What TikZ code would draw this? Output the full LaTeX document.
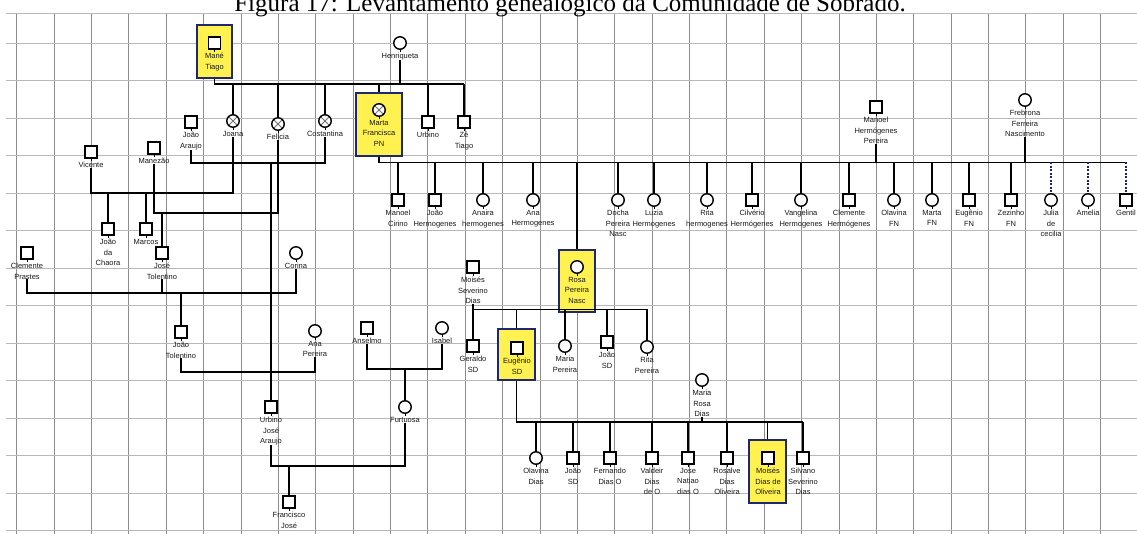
\documentclass[tikz,border=0pt]{standalone}
\usepackage{fontspec}
\setmainfont{Liberation Serif}
\newfontfamily\lblfont{Liberation Sans}
\definecolor{hlyellow}{RGB}{255,242,80}
\definecolor{hlborder}{RGB}{30,40,110}
\definecolor{dashblue}{RGB}{30,30,120}
\newcommand\persn[5]{%
  \node[#2] (#1) at ({#3},{#4}) {};
  \draw[stem] (#1.south) -- ++(0,2.5);
  \node[lbl] (#1-l) at ({#3},{#4+10}) {#5};
}
\begin{document}
\begin{tikzpicture}[x=1pt,y=-1pt,
  gridv/.style={draw=black!45,line width=0.7pt},
  gridh/.style={draw=black!28,line width=0.7pt},
  rel/.style={draw=black,line width=1.9pt},
  reldash/.style={draw=dashblue,line width=1.9pt,dash pattern=on 2pt off 1.5pt},
  msq/.style={rectangle,draw=black,line width=1.4pt,fill=white,minimum size=12pt,inner sep=0pt},
  fci/.style={circle,draw=black,line width=1.4pt,fill=white,minimum size=12.5pt,inner sep=0pt},
  fdec/.style={fci,path picture={\draw[black!55,line width=0.9pt] (path picture bounding box.north west)--(path picture bounding box.south east) (path picture bounding box.north east)--(path picture bounding box.south west);}},
  hl/.style={rectangle,draw=hlborder,fill=hlyellow,line width=1.2pt,inner sep=0pt},
  lbl/.style={font=\lblfont\fontsize{7.5}{10.5}\selectfont,align=center,inner sep=0pt,text=black!90,anchor=north},
  stem/.style={draw=black,line width=1pt},
]
\useasboundingbox (0,0) rectangle (1137,534);
\fill[white] (0,0) rectangle (1137,534);
% grid
\foreach \k in {0,...,29} \draw[gridv] ({16.7+37.37*\k},13) -- ({16.7+37.37*\k},534);
\draw[gridh] (6,13.3) -- (1137,13.3);
\foreach \k in {0,...,13} \draw[gridh] (6,{43.3+37.5*\k}) -- (1137,{43.3+37.5*\k});
% title (cut at the top, as in the reference)
\node[anchor=base,font=\fontsize{25}{25}\selectfont,inner sep=0pt] (title) at (570,12) {Figura 17: Levantamento genealógico da Comunidade de Sobrado.};
% highlight boxes
\node[hl,minimum width=35pt,minimum height=53pt] (maneBox) at (214.5,51.5) {};
\node[hl,minimum width=46pt,minimum height=63pt] (martaBox) at (379,124.5) {};
\node[hl,minimum width=36pt,minimum height=62pt] (rosaBox) at (577,281) {};
\node[hl,minimum width=37pt,minimum height=51pt] (eugBox) at (516.5,354.5) {};
\node[hl,minimum width=37pt,minimum height=63pt] (moisBox) at (767.5,471.5) {};
% persons
\persn{mane}{msq}{214.5}{43}{Mané\\Tiago}
\persn{henr}{fci}{400}{43}{Henriqueta}
\persn{joana}{fdec}{233}{121}{Joana}
\persn{felicia}{fdec}{278}{124}{Felícia}
\persn{cost}{fdec}{325}{121}{Costantina}
\persn{marta}{fdec}{379}{110}{Marta\\Francisca\\PN}
\persn{urbino}{msq}{428}{122}{Urbino}
\persn{ze}{msq}{464}{122}{Zé\\Tiago}
\persn{joaoA}{msq}{191}{122}{João\\Araujo}
\persn{vicente}{msq}{91}{152}{Vicente}
\persn{manezao}{msq}{154}{148}{Manezão}
\persn{chaora}{msq}{108}{229}{João\\da\\Chaora}
\persn{marcos}{msq}{146}{229}{Marcos}
\persn{josT}{msq}{162}{253}{José\\Tolentino}
\persn{clem}{msq}{27}{253}{Clemente\\Prastes}
\persn{corina}{fci}{296}{253}{Corina}
\persn{joaoT}{msq}{181}{332}{João\\Tolentino}
\persn{anaP}{fci}{315}{331}{Ana\\Pereira}
\persn{anselmo}{msq}{367}{328}{Anselmo}
\persn{isabel}{fci}{442}{328}{Isabel}
\persn{urbJA}{msq}{271}{407}{Urbino\\José\\Araujo}
\persn{furt}{fci}{405}{407}{Furtuosa}
\persn{franc}{msq}{289}{502}{Francisco\\José}
\persn{manoelHP}{msq}{876}{107}{Manoel\\Hermógenes\\Pereira}
\persn{frebrona}{fci}{1025}{100}{Frebrona\\Ferreira\\Nascimento}
\persn{manC}{msq}{398}{200}{Manoel\\Cirino}
\persn{joaoH}{msq}{435}{200}{João\\Hermogenes}
\persn{anaira}{fci}{483}{200}{Anaira\\hermogenes}
\persn{anaH}{fci}{533}{200}{Ana\\Hermogenes}
\persn{docha}{fci}{618}{200}{Docha\\Pereira\\Nasc}
\persn{luzia}{fci}{654}{200}{Luzia\\Hermogenes}
\persn{rita}{fci}{707}{200}{Rita\\hermogenes}
\persn{cilv}{msq}{752}{200}{Cilvério\\Hermógenes}
\persn{vang}{fci}{801}{200}{Vangelina\\Hermogenes}
\persn{clemH}{msq}{849}{200}{Clemente\\Hermógenes}
\persn{olaFN}{fci}{894}{200}{Olavina\\FN}
\persn{martaFN}{fci}{932}{200}{Marta\\FN}
\persn{eugFN}{msq}{969}{200}{Eugênio\\FN}
\persn{zez}{msq}{1011}{200}{Zezinho\\FN}
\persn{julia}{fci}{1051}{200}{Julia\\de\\cecilia}
\persn{amelia}{fci}{1088}{200}{Amelia}
\persn{gentil}{msq}{1126}{200}{Gentil}
\persn{rosa}{fci}{577}{267}{Rosa\\Pereira\\Nasc}
\persn{moises}{msq}{473}{267}{Moisés\\Severino\\Dias}
\persn{geraldo}{msq}{473}{346}{Geraldo\\SD}
\persn{eugSD}{msq}{517}{348}{Eugênio\\SD}
\persn{mariaP}{fci}{565}{346}{Maria\\Pereira}
\persn{joaoSD}{msq}{607}{342}{João\\SD}
\persn{ritaP}{fci}{647}{347}{Rita\\Pereira}
\persn{mariaRD}{fci}{702}{380}{Maria\\Rosa\\Dias}
\persn{olaD}{fci}{536}{458}{Olavina\\Dias}
\persn{joaoSDb}{msq}{573}{458}{João\\SD}
\persn{fern}{msq}{610}{458}{Fernando\\Dias O}
\persn{vald}{msq}{652}{458}{Valdeir\\Dias\\de O}
\persn{jose}{msq}{688}{458}{Jose\\Natiao\\dias O}
\persn{rosalve}{msq}{727}{458}{Rosalve\\Dias\\Oliveira}
\persn{moisDO}{msq}{768}{458}{Moisés\\Dias de\\Oliveira}
\persn{silvano}{msq}{803}{458}{Silvano\\Severino\\Dias}
% --- connectors ---
% Mané Tiago & Henriqueta
\coordinate (cMH) at (300,84);
\draw[rel] (maneBox.south) |- (henr-l.south |- cMH) -- (henr-l.south);
\draw[rel] (henr-l.south |- cMH) -- (ze.north |- cMH);
\foreach \c in {joana,felicia,cost,urbino,ze} \draw[rel] (\c.north |- cMH) -- (\c.north);
\draw[rel] (martaBox.north |- cMH) -- (martaBox.north);
% João Araujo & Costantina
\coordinate (cJC) at (250,163);
\draw[rel] (joaoA-l.south) |- (cost-l.south |- cJC) -- (cost-l.south);
\draw[rel] (urbJA.north |- cJC) -- (urbJA.north);
% Vicente & Joana
\coordinate (cVJ) at (150,193);
\draw[rel] (vicente-l.south) |- (joana-l.south |- cVJ) -- (joana-l.south);
\foreach \c in {chaora,marcos} \draw[rel] (\c.north |- cVJ) -- (\c.north);
% Manezão & Felícia
\coordinate (cMF) at (200,213);
\draw[rel] (manezao-l.south) |- (felicia-l.south |- cMF) -- (felicia-l.south);
\draw[rel] (josT.north |- cMF) -- (josT.north);
% Clemente Prastes, José Tolentino & Corina
\coordinate (cCC) at (150,293);
\draw[rel] (clem-l.south) |- (corina-l.south |- cCC) -- (corina-l.south);
\draw[rel] (josT-l.south) -- (josT-l.south |- cCC);
\draw[rel] (joaoT.north |- cCC) -- (joaoT.north);
% João Tolentino & Ana Pereira
\coordinate (cTA) at (250,372);
\draw[rel] (joaoT-l.south) |- (anaP-l.south |- cTA) -- (anaP-l.south);
% Anselmo & Isabel
\coordinate (cAI) at (400,369);
\draw[rel] (anselmo-l.south) |- (isabel-l.south |- cAI) -- (isabel-l.south);
\draw[rel] (furt.north |- cAI) -- (furt.north);
% Urbino José Araujo & Furtuosa
\coordinate (cUF) at (330,466);
\draw[rel] (urbJA-l.south) |- (furt-l.south |- cUF) -- (furt-l.south);
\draw[rel] (franc.north |- cUF) -- (franc.north);
% Marta Francisca, Manoel Hermógenes Pereira & Frebrona
\coordinate (cM) at (700,162.5);
\draw[rel] (martaBox.south) |- (gentil.north |- cM);
\draw[rel] (manoelHP-l.south) -- (manoelHP-l.south |- cM);
\draw[rel] (frebrona-l.south) -- (frebrona-l.south |- cM);
\foreach \c in {manC,joaoH,anaira,anaH,docha,luzia,rita,cilv,vang,clemH,olaFN,martaFN,eugFN,zez}
  \draw[rel] (\c.north |- cM) -- (\c.north);
\foreach \c in {julia,amelia,gentil} \draw[reldash] (\c.north |- cM) -- (\c.north);
\draw[rel] (rosaBox.north |- cM) -- (rosaBox.north);
% Moisés Severino Dias & Rosa
\coordinate (cMR) at (560,309.5);
\draw[rel] (moises-l.south) -- (geraldo.north);
\draw[rel] (moises-l.south |- cMR) -- (ritaP.north |- cMR);
\draw[rel] (eugBox.north |- cMR) -- (eugBox.north);
\foreach \c in {mariaP,joaoSD,ritaP} \draw[rel] (\c.north |- cMR) -- (\c.north);
% Eugênio SD & Maria Rosa Dias
\coordinate (cEM) at (660,422);
\draw[rel] (eugBox.south) |- (silvano.north |- cEM);
\draw[rel] (mariaRD-l.south) -- (mariaRD-l.south |- cEM);
\foreach \c in {olaD,joaoSDb,fern,vald,jose,rosalve,silvano} \draw[rel] (\c.north |- cEM) -- (\c.north);
\draw[rel] (moisBox.north |- cEM) -- (moisBox.north);
\end{tikzpicture}
\end{document}
